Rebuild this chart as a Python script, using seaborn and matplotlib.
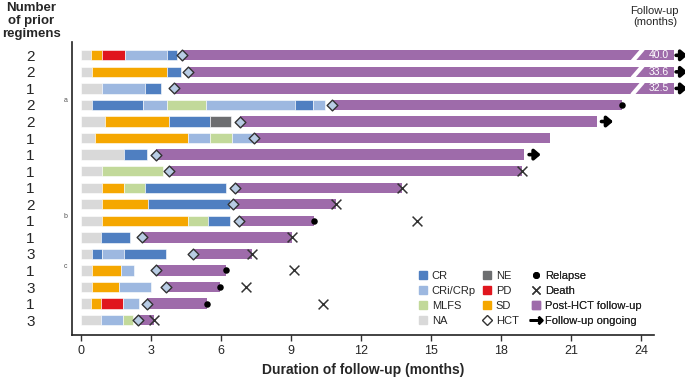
import numpy as np
import pandas as pd
import seaborn as sns
import matplotlib.pyplot as plt
from matplotlib.lines import Line2D

# number of prior regimens per patient (top to bottom)
regimens = [2, 2, 1, 2, 2, 1, 1, 1, 1, 2, 1, 1, 3, 1, 3, 1, 3]

# pre-HCT response segments: (status, end month), each starts where previous ended
responses = [
    [("NA", 0.43), ("SD", 0.91), ("PD", 1.87), ("CRi/CRp", 3.69), ("CR", 4.13)],
    [("NA", 0.46), ("SD", 3.69), ("CR", 4.27)],
    [("NA", 0.90), ("CRi/CRp", 2.76), ("CR", 3.43)],
    [("NA", 0.47), ("CR", 2.64), ("CRi/CRp", 3.69), ("MLFS", 5.36), ("CRi/CRp", 9.17),
     ("CR", 9.93), ("CRi/CRp", 10.46)],
    [("NA", 1.03), ("SD", 3.76), ("CR", 5.53), ("NE", 6.43)],
    [("NA", 0.60), ("SD", 4.57), ("CRi/CRp", 5.53), ("MLFS", 6.47), ("CRi/CRp", 7.41)],
    [("NA", 1.84), ("CR", 2.84)],
    [("NA", 0.90), ("MLFS", 3.53)],
    [("NA", 0.90), ("SD", 1.83), ("MLFS", 2.74), ("CR", 6.21)],
    [("NA", 0.91), ("SD", 2.86), ("CR", 6.39)],
    [("NA", 0.91), ("SD", 4.57), ("MLFS", 5.43), ("CR", 6.40)],
    [("NA", 0.87), ("CR", 2.11)],
    [("NA", 0.49), ("CR", 0.90), ("CRi/CRp", 1.84), ("CR", 3.64)],
    [("NA", 0.46), ("SD", 1.71), ("CRi/CRp", 2.26)],
    [("NA", 0.47), ("SD", 1.64), ("CRi/CRp", 3.01)],
    [("NA", 0.43), ("SD", 0.86), ("PD", 1.79), ("CRi/CRp", 2.47)],
    [("NA", 0.84), ("CRi/CRp", 1.80), ("MLFS", 2.21)],
]

hct = [4.33, 4.60, 3.99, 10.76, 6.83, 7.41, 3.23, 3.76, 6.60, 6.50, 6.77, 2.61, 4.81, 3.20, 3.66, 2.81, 2.43]
followup_end = [40.0, 33.6, 32.5, 23.2, 22.1, 20.1, 19.0, 18.9, 13.76, 10.93, 10.0, 9.06, 7.33, 6.2, 5.96, 5.4, 3.14]
relapse = [None, None, None, 23.2, None, None, None, None, None, None, 10.0, None, None, 6.2, 5.96, 5.4, None]
death = [None, None, None, None, None, None, None, 18.9, 13.76, 10.93, 14.4, 9.06, 7.33, 9.14, 7.07, 10.36, 3.14]
ongoing = [True, True, True, False, True, False, True, False, False, False, False, False, False, False, False, False, False]
notes = {3: "a", 10: "b", 13: "c"}

colors = {
    "CR": "#4f7fc1",
    "CRi/CRp": "#9db8e0",
    "MLFS": "#c2d99a",
    "NA": "#d9d9d9",
    "NE": "#6d6e70",
    "PD": "#e0161e",
    "SD": "#f5a700",
}
purple = "#9e6baa"
hct_face = "#b8cce4"

sns.set_style("ticks")
plt.rcParams["font.family"] = ["Liberation Sans", "DejaVu Sans"]

fig = plt.figure(figsize=(6.85, 3.79), dpi=100)
ax = fig.add_axes([0.105, 0.116, 0.85, 0.773])

bh = 0.62
cap = 23.85  # where the long bars are broken
arrow = dict(arrowstyle="-|>,head_length=0.35,head_width=0.3", color="black",
             lw=2.6, shrinkA=0, shrinkB=0)

for i, segs in enumerate(responses):
    start = 0
    for status, end in segs:
        ax.barh(i, end - start, left=start, height=bh, color=colors[status],
                edgecolor="white", linewidth=0.4)
        start = end
    fu = followup_end[i]
    if fu > 24:
        ax.barh(i, 25.4 - hct[i], left=hct[i], height=bh, color=purple,
                linewidth=0, clip_on=False)
        ax.plot([cap - 0.22, cap + 0.22], [i + bh / 2 + 0.05, i - bh / 2 - 0.05],
                color="white", lw=3, clip_on=False, zorder=3)
        ax.text(24.75, i, f"{fu:.1f}", color="white", fontsize=7.5,
                ha="center", va="center", zorder=4, clip_on=False)
        ax.annotate("", xy=(25.98, i), xytext=(25.5, i), annotation_clip=False,
                    arrowprops=arrow)
    else:
        ax.barh(i, fu - hct[i], left=hct[i], height=bh, color=purple, linewidth=0)
        if ongoing[i]:
            ax.annotate("", xy=(fu + 0.7, i), xytext=(fu + 0.2, i), arrowprops=arrow)

rows = np.arange(len(regimens))
events = pd.DataFrame({"row": rows, "hct": hct, "relapse": relapse, "death": death})

sns.scatterplot(data=events, x="hct", y="row", marker="D", s=30, color=hct_face,
                edgecolor="#333333", linewidth=1, zorder=5, ax=ax, legend=False)
sns.scatterplot(data=events.dropna(subset=["relapse"]), x="relapse", y="row", marker="o",
                s=22, color="black", linewidth=0, zorder=6, ax=ax, legend=False)
sns.scatterplot(data=events.dropna(subset=["death"]), x="death", y="row", marker="x",
                s=50, color="#333333", linewidth=1.1, zorder=6, ax=ax, legend=False)

for i, letter in notes.items():
    ax.text(-0.65, i - 0.25, letter, fontsize=5, color="#555555", ha="center", va="center",
            clip_on=False)

ax.set_xlim(-0.39, 24.56)
ax.set_ylim(len(regimens) - 0.1, -0.8)
ax.set_xticks(range(0, 25, 3))
ax.set_yticks(rows, labels=[str(r) for r in regimens])
ax.tick_params(axis="y", length=0, pad=30, labelsize=11)
ax.tick_params(axis="x", labelsize=9, length=4, width=1, color="#333333")
for lab in ax.get_yticklabels():
    lab.set_horizontalalignment("center")
ax.set_xlabel("Duration of follow-up (months)", fontsize=10, fontweight="bold")
ax.set_ylabel("")
sns.despine(ax=ax)
for sp in ("left", "bottom"):
    ax.spines[sp].set_linewidth(1.2)
    ax.spines[sp].set_color("#222222")

fig.text(0.046, 0.995, "Number\nof prior\nregimens", fontsize=9.5, fontweight="bold",
         ha="center", va="top", linespacing=1.1)
fig.text(0.956, 0.985, "Follow-up\n(months)", fontsize=8, ha="center", va="top")

sq = dict(marker="s", linestyle="none", markersize=6)
col1 = [Line2D([], [], color=colors[k], label=k, **sq) for k in ["CR", "CRi/CRp", "MLFS", "NA"]]
col2 = [Line2D([], [], color=colors[k], label=k, **sq) for k in ["NE", "PD", "SD"]]
col2.append(Line2D([], [], marker="D", linestyle="none", markersize=5, markerfacecolor="white",
                   markeredgecolor="#333333", markeredgewidth=1, label="HCT"))
col3 = [
    Line2D([], [], marker="o", linestyle="none", markersize=4, color="black", label="Relapse"),
    Line2D([], [], marker="x", linestyle="none", markersize=6, color="#333333", label="Death"),
    Line2D([], [], color=purple, label="Post-HCT follow-up", **sq),
    Line2D([], [], marker=r"$\rightarrow$", linestyle="none", markersize=9, color="black",
           label="Follow-up ongoing"),
]
leg_style = dict(frameon=False, fontsize=8, loc="lower left", handlelength=0.8,
                 handletextpad=0.4, labelspacing=0.45, borderaxespad=0, borderpad=0)
for handles, x0 in [(col1, 0.595), (col2, 0.705), (col3, 0.79)]:
    leg = ax.legend(handles=handles, bbox_to_anchor=(x0, 0.03), **leg_style)
    ax.add_artist(leg)

fig.savefig("out.png", dpi=100)
